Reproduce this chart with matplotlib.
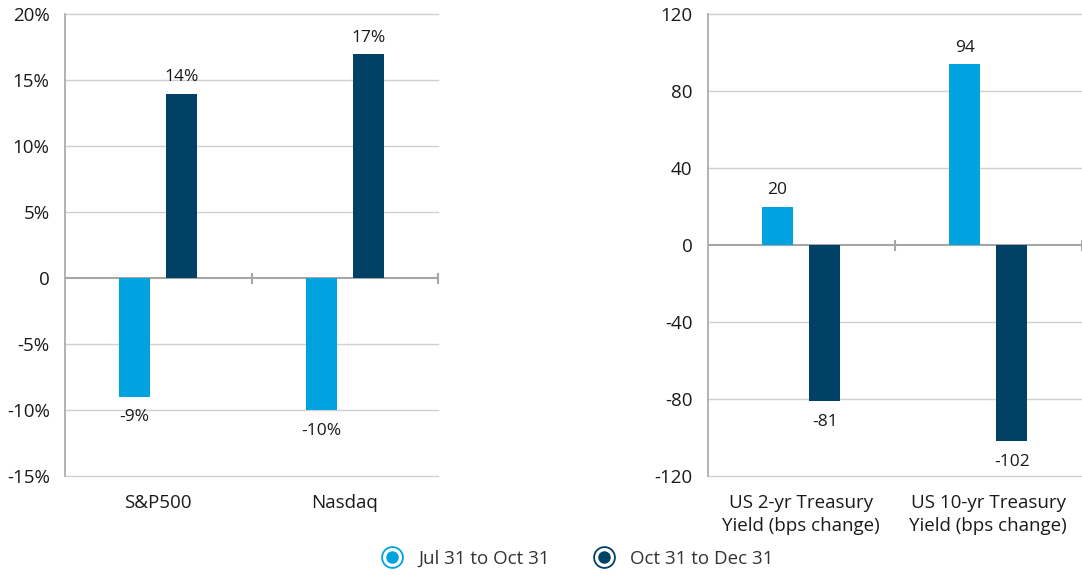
import numpy as np
import matplotlib.pyplot as plt
from matplotlib.lines import Line2D

plt.rcParams['font.family'] = ['Open Sans', 'DejaVu Sans']

# data
equity_labels = ['S&P500', 'Nasdaq']
equity_jul_oct = [-9, -10]
equity_oct_dec = [14, 17]

yield_labels = ['US 2-yr Treasury\nYield (bps change)', 'US 10-yr Treasury\nYield (bps change)']
yield_jul_oct = [20, 94]
yield_oct_dec = [-81, -102]

series_names = ['Jul 31 to Oct 31', 'Oct 31 to Dec 31']
light = '#00A3E0'
dark = '#004165'
grid_col = '#d0d0d0'
axis_col = '#a6a6a6'


def draw_panel(ax, labels, s1, s2, yticks, fmt):
    x = np.arange(len(labels))
    w = 0.168
    off = 0.126
    b1 = ax.bar(x - off, s1, w, color=light, zorder=3)
    b2 = ax.bar(x + off, s2, w, color=dark, zorder=3)

    ax.set_xlim(-0.5, len(labels) - 0.5)
    ax.set_ylim(yticks[0], yticks[-1])
    ax.set_yticks(yticks)
    ax.set_yticklabels([fmt(v) for v in yticks])
    ax.set_xticks(x)
    ax.set_xticklabels(labels, linespacing=1.35)
    ax.tick_params(axis='both', length=0, labelsize=13.5, colors='#1a1a1a')
    ax.tick_params(axis='x', pad=13)
    ax.tick_params(axis='y', pad=11)

    for side in ['top', 'right', 'bottom']:
        ax.spines[side].set_visible(False)
    ax.spines['left'].set_color(axis_col)
    ax.spines['left'].set_linewidth(1.2)

    # horizontal gridlines, including the bottom edge
    for t in yticks:
        if t != 0:
            ax.axhline(t, color=grid_col, linewidth=1.0, zorder=0, clip_on=False)

    # zero line with category separators
    ax.axhline(0, color=axis_col, linewidth=1.5, zorder=2)
    span = yticks[-1] - yticks[0]
    bounds = np.arange(len(labels)) + 0.5
    ax.vlines(bounds, -span * 0.012, span * 0.012, color=axis_col,
              linewidth=1.5, zorder=2, clip_on=False)

    for bars, vals in [(b1, s1), (b2, s2)]:
        for rect, v in zip(bars, vals):
            cx = rect.get_x() + rect.get_width() / 2
            if v >= 0:
                ax.annotate(fmt(v), (cx, v), xytext=(0, 6), textcoords='offset points',
                            ha='center', va='bottom', fontsize=12.5, color='#1a1a1a')
            else:
                ax.annotate(fmt(v), (cx, v), xytext=(0, -9), textcoords='offset points',
                            ha='center', va='top', fontsize=12.5, color='#1a1a1a')
    return b1, b2


fig = plt.figure(figsize=(10.82, 5.75), dpi=100)
ax1 = fig.add_axes([0.060, 0.172, 0.345, 0.803])
ax2 = fig.add_axes([0.654, 0.172, 0.3457, 0.803])

pct = lambda v: '0' if v == 0 else f'{v:g}%'
num = lambda v: f'{v:g}'

draw_panel(ax1, equity_labels, equity_jul_oct, equity_oct_dec,
           np.arange(-15, 21, 5), pct)
draw_panel(ax2, yield_labels, yield_jul_oct, yield_oct_dec,
           np.arange(-120, 121, 40), num)

# legend with ring markers
handles = []
for c in [light, dark]:
    ring = Line2D([], [], marker='o', linestyle='none', markersize=15,
                  markerfacecolor='white', markeredgecolor=c, markeredgewidth=1.3)
    dot = Line2D([], [], marker='o', linestyle='none', markersize=8,
                 markerfacecolor=c, markeredgecolor=c)
    handles.append((ring, dot))
fig.legend(handles, series_names, loc='center', bbox_to_anchor=(0.530, 0.028),
           ncol=2, frameon=False, fontsize=13.5, handletextpad=0.4,
           columnspacing=1.9, labelcolor='#333333')

plt.savefig('out.png', dpi=100)
